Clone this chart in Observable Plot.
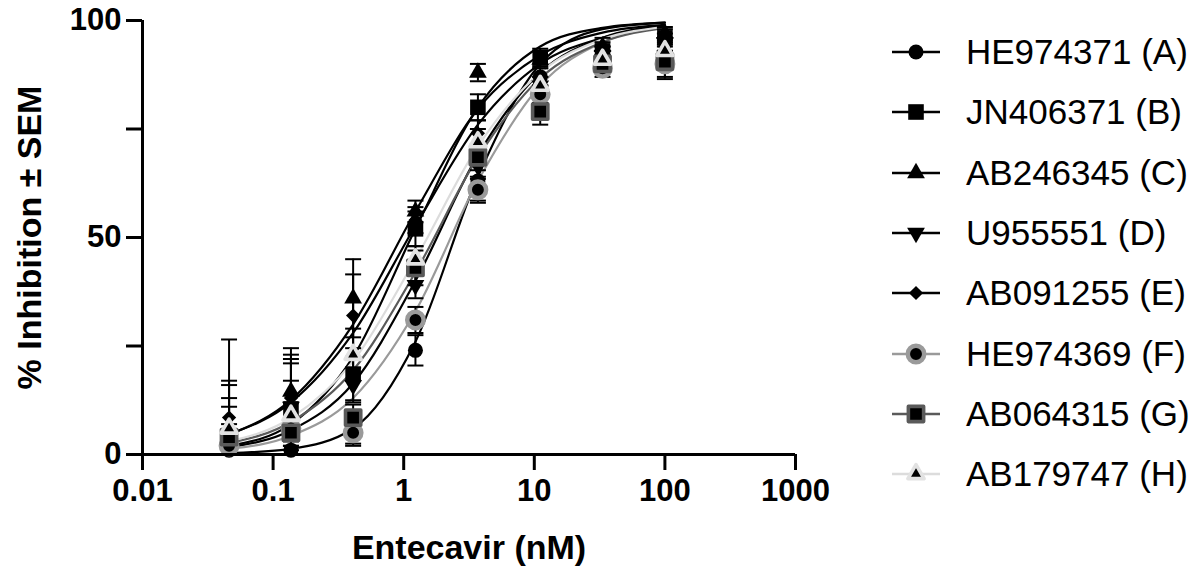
<!DOCTYPE html>
<html><head><meta charset="utf-8">
<script src="https://cdn.jsdelivr.net/npm/d3@7"></script>
<script src="https://cdn.jsdelivr.net/npm/@observablehq/plot@0.6"></script>
<style>
body{margin:0;background:#fff;font-family:"Liberation Sans",Arial,sans-serif;}
#wrap{position:relative;width:1202px;height:573px;overflow:hidden;}
#chart{position:absolute;left:0;top:0;}
#legend{position:absolute;left:888px;top:22px;}
.item{display:flex;align-items:center;height:60.3px;font-size:35px;color:#000;white-space:nowrap;}
.item svg{margin-right:22px;display:block;}
</style></head><body>
<div id="wrap"><div id="chart"></div><div id="legend"></div></div>
<script>
// ---- data ----
const conc = [0.046, 0.137, 0.41, 1.23, 3.7, 11.1, 33.3, 100];
const seriesNames = ["HE974371 (A)","JN406371 (B)","AB246345 (C)","U955551 (D)","AB091255 (E)","HE974369 (F)","AB064315 (G)","AB179747 (H)"];
const xTicks = [0.01, 0.1, 1, 10, 100, 1000];
const yTicks = [0, 25, 50, 75, 100];
const yTickLabels = ["0", "", "50", "", "100"];

const meanA = [1, 1, 5, 24, 63, 87, 92, 91];
const meanB = [3, 10.5, 18.5, 52, 80, 91.5, 93, 96];
const meanC = [4, 14.5, 36, 56, 88, 91, 94, 97];
const meanD = [3, 11, 16, 39, 66.5, 85, 92, 95];
const meanE = [8.5, 13, 32, 54, 74, 83, 91, 94];
const meanF = [2, 6, 5, 31, 61, 83, 89, 90];
const meanG = [4, 5, 8.5, 43, 68.5, 79, 90, 90.5];
const meanH = [6, 9, 23, 45, 72, 85, 91, 93];

const semA = [1, 1, 2.5, 3.5, 4.5, 2, 2, 2];
const semB = [10, 10.5, 6, 4, 3, 2, 2, 2];
const semC = [13, 10, 9, 2.5, 2, 2, 2, 1.5];
const semD = [8, 11, 4, 3, 3, 2, 2, 2];
const semE = [18, 10, 9.5, 3, 3, 2, 2, 2];
const semF = [2, 2, 3, 3, 3, 2, 2, 3];
const semG = [3, 3, 3, 4, 3, 3, 2, 4];
const semH = [10, 8, 6, 3, 3, 2, 2, 2];

// fitted dose-response curve values read at each concentration
const fitA = [0.3, 1.3, 6, 26, 64, 90, 98, 99.5];
const fitB = [2, 7, 22.5, 52, 80, 94, 98.3, 99.5];
const fitC = [4.6, 12.6, 30, 56, 79.6, 92, 97.2, 99];
const fitD = [1.7, 5.6, 16.4, 40, 69, 88, 96, 98.8];
const fitE = [4.7, 12, 28, 52.7, 76, 90, 96, 98.6];
const fitF = [1.3, 4.3, 13, 33, 63, 85, 95, 98.4];
const fitG = [2.6, 7.5, 19.4, 42, 68.5, 86.7, 95, 98.3];
const fitH = [3, 8.4, 21.5, 45, 71, 88, 95.7, 98.5];

// ---- styles ----
const styles = [
  {symbol:"circle",   r:7.5, fill:"#000", stroke:"none", sw:0, rotate:0, line:"#000"},
  {symbol:"square",   r:8.8, fill:"#000", stroke:"none", sw:0, rotate:0, line:"#000"},
  {symbol:"triangle", r:6.6, fill:"#000", stroke:"none", sw:0, rotate:0, line:"#000"},
  {symbol:"triangle", r:6.6, fill:"#000", stroke:"none", sw:0, rotate:180, line:"#000"},
  {symbol:"diamond2", r:6.4, fill:"#000", stroke:"none", sw:0, rotate:0, line:"#000"},
  {symbol:"circle",   r:8.2, fill:"#000", stroke:"#9a9a9a", sw:4.5, rotate:0, line:"#9a9a9a"},
  {symbol:"square",   r:8.6, fill:"#000", stroke:"#5a5a5a", sw:3.6, rotate:0, line:"#5a5a5a"},
  {symbol:"triangle", r:6.0, fill:"#000", stroke:"#e2e2e2", sw:3.6, rotate:0, line:"#dcdcdc"}
];

const means = [meanA, meanB, meanC, meanD, meanE, meanF, meanG, meanH];
const sems = [semA, semB, semC, semD, semE, semF, semG, semH];
const fits = [fitA, fitB, fitC, fitD, fitE, fitF, fitG, fitH];

const pts = [], curves = [];
seriesNames.forEach((name, i) => {
  conc.forEach((c, j) => {
    pts.push({s: i, name, x: c, y: means[i][j], lo: means[i][j] - sems[i][j], hi: means[i][j] + sems[i][j]});
    curves.push({s: i, name, x: c, y: fits[i][j]});
  });
});

const capSymbol = {draw(ctx) { ctx.moveTo(-8, 0); ctx.lineTo(8, 0); }};

const marks = [];
// fitted curves
for (let i = 0; i < seriesNames.length; i++) {
  marks.push(Plot.line(curves.filter(d => d.s === i), {x: "x", y: "y", stroke: styles[i].line, strokeWidth: 2.2, curve: "monotone-x"}));
}
// error bars
marks.push(Plot.ruleX(pts, {x: "x", y1: "lo", y2: "hi", stroke: "#000", strokeWidth: 2, clip: true}));
marks.push(Plot.dot(pts.filter(d => d.hi <= 100.5), {x: "x", y: "hi", symbol: capSymbol, stroke: "#000", strokeWidth: 2, fill: "none", r: 3}));
marks.push(Plot.dot(pts.filter(d => d.lo >= 0), {x: "x", y: "lo", symbol: capSymbol, stroke: "#000", strokeWidth: 2, fill: "none", r: 3}));
// points
for (let i = 0; i < seriesNames.length; i++) {
  const st = styles[i];
  marks.push(Plot.dot(pts.filter(d => d.s === i), {x: "x", y: "y", symbol: st.symbol, r: st.r, fill: st.fill, stroke: st.stroke, strokeWidth: st.sw, strokeLinejoin: "round", rotate: st.rotate}));
}
// axes
marks.push(Plot.ruleX([0.01], {y1: 0, y2: 100, stroke: "#000", strokeWidth: 3}));
marks.push(Plot.ruleY([0], {x1: 0.01, x2: 1000, stroke: "#000", strokeWidth: 3}));
marks.push(Plot.axisX({ticks: xTicks, tickSize: 16, tickPadding: 8, strokeWidth: 3, tickFormat: d => String(d), fontSize: 31, fontWeight: "bold"}));
marks.push(Plot.axisY({ticks: yTicks, tickSize: 16, tickPadding: 5, strokeWidth: 3, tickFormat: d => yTickLabels[yTicks.indexOf(d)], fontSize: 31, fontWeight: "bold"}));
marks.push(Plot.text(["Entecavir (nM)"], {frameAnchor: "bottom", dy: 94, fontSize: 34, fontWeight: "bold", lineAnchor: "middle"}));
marks.push(Plot.text(["% Inhibition ± SEM"], {frameAnchor: "left", dx: -112, rotate: -90, fontSize: 34, fontWeight: "bold", lineAnchor: "middle", textAnchor: "middle"}));

const chart = Plot.plot({
  width: 860, height: 573,
  marginLeft: 142, marginRight: 65, marginTop: 20, marginBottom: 119,
  style: {fontFamily: '"Liberation Sans", Arial, sans-serif', color: "#000", background: "#fff", overflow: "visible"},
  x: {type: "log", domain: [0.01, 1000], label: null},
  y: {domain: [0, 100], label: null},
  marks
});
document.getElementById("chart").appendChild(chart);

// legend
const leg = d3.select("#legend");
const typeMap = {circle: d3.symbolCircle, square: d3.symbolSquare, triangle: d3.symbolTriangle, diamond2: d3.symbolDiamond2};
seriesNames.forEach((name, i) => {
  const st = styles[i];
  const row = leg.append("div").attr("class", "item");
  const svg = row.append("svg").attr("width", 56).attr("height", 40);
  svg.append("line").attr("x1", 4).attr("x2", 52).attr("y1", 20).attr("y2", 20).attr("stroke", st.line).attr("stroke-width", 2.4);
  svg.append("path").attr("d", d3.symbol(typeMap[st.symbol], Math.PI * st.r * st.r)())
    .attr("transform", `translate(28,20) rotate(${st.rotate})`)
    .attr("fill", st.fill).attr("stroke", st.stroke).attr("stroke-width", st.sw).attr("stroke-linejoin", "round");
  row.append("span").text(name);
});
</script>
</body></html>
